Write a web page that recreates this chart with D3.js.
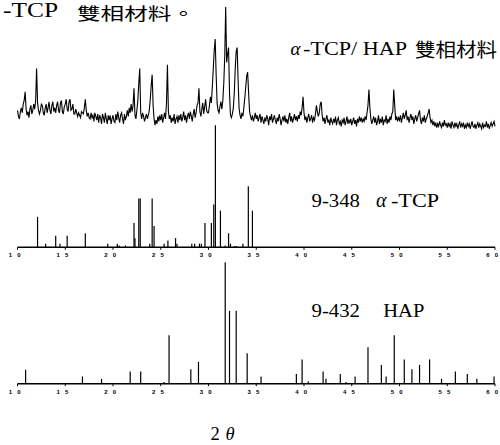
<!DOCTYPE html>
<html><head><meta charset="utf-8">
<script src="https://cdn.jsdelivr.net/npm/d3@7"></script>
<style>
html,body{margin:0;padding:0;background:#fff;}
svg{display:block;}
.serif{font-family:"Liberation Serif","DejaVu Serif",serif;}
.cjk{font-family:"Noto Sans CJK TC","Noto Sans CJK SC",sans-serif;}
.tick{font-family:"Liberation Sans",Arial,sans-serif;font-weight:bold;}
</style></head>
<body>
<script>
// ---------- DATA ----------
// Measured XRD pattern of the α-TCP/HAP biphasic material (2θ from 10° in 0.1° steps, relative intensity)
const xrdStart = 10, xrdStep = 0.1;
const xrdIntensity = [
16,11,9,15,18,14,21,24,31,17,      // 10
12,15,10,17,20,13,16,21,17,24,     // 11
50,22,16,13,16,21,20,14,12,18,     // 12
21,14,18,23,16,13,20,23,15,18,     // 13
14,20,23,16,14,22,24,15,13,19,     // 14
21,25,17,15,23,25,16,17,21,13,     // 15
13,17,14,11,14,12,10,15,14,13,     // 16
18,25,16,11,14,10,9,14,10,12,      // 17
7,14,11,8,13,6,12,10,5,13,         // 18
10,6,14,9,5,12,8,12,5,9,           // 19
12,7,6,13,8,15,10,6,12,14,         // 20
9,5,13,8,11,16,11,18,14,21,        // 21
15,20,34,12,9,16,24,38,50,14,      // 22
9,14,11,7,10,13,9,12,16,25,        // 23
36,45,20,9,4,8,5,11,7,12,          // 24
8,13,6,10,14,9,22,53,15,9,         // 25
12,6,10,7,13,5,9,11,6,12,          // 26
8,13,7,10,15,8,12,6,11,14,         // 27
9,15,11,7,13,17,10,14,20,22,       // 28
34,15,11,17,22,13,19,25,16,14,     // 29
14,20,27,22,35,50,65,74,45,22,     // 30
16,14,19,23,17,24,38,60,100,55,    // 31
62,67,30,12,10,13,18,30,50,64,     // 32
67,40,18,12,9,14,11,18,26,35,      // 33
44,47,30,15,11,8,12,7,10,14,       // 34
9,12,7,10,13,6,11,8,5,10,          // 35
7,12,9,4,11,8,13,6,9,12,           // 36
8,5,10,7,13,9,4,8,11,7,            // 37
12,6,9,5,10,14,7,11,6,9,           // 38
13,8,11,7,12,9,15,12,18,27,        // 39
14,8,11,6,10,13,7,9,12,6,          // 40
10,8,13,20,15,11,14,21,23,12,      // 41
7,10,5,9,12,6,8,4,10,7,            // 42
5,9,6,11,4,8,10,5,7,3,             // 43
8,6,10,4,7,11,5,8,6,9,             // 44
4,7,10,5,8,3,9,6,11,7,             // 45
10,6,9,7,11,8,14,20,33,18,         // 46
9,5,8,11,6,10,4,7,12,5,            // 47
9,6,11,4,8,7,12,5,9,6,             // 48
11,8,13,15,33,20,8,11,7,10,        // 49
8,12,6,10,14,9,12,16,8,11,         // 50
6,10,13,8,11,5,9,12,7,10,          // 51
13,16,8,5,10,7,12,6,9,11,          // 52
14,17,10,6,8,4,7,3,6,2,            // 53
5,3,7,4,2,6,3,8,4,5,               // 54
2,6,3,5,1,7,4,2,6,3,               // 55
5,1,4,7,2,5,3,6,1,4,               // 56
2,6,3,5,1,4,7,3,2,5,               // 57
1,4,6,2,5,3,1,6,2,4,               // 58
3,7,2,5,1,4,6,3,5,7,               // 59
3                                  // 60
];
// JCPDS 9-348 α-TCP reference lines
const tcpAngles =    [12.1,12.95,14.0,14.45,15.2,17.1,19.45,20.45,20.65,21.3,22.2,22.3,22.7,22.85,23.85,24.1,24.3,25.35,25.75,26.55,26.7,28.25,28.55,29.05,29.25,29.63,30.3,30.55,30.72,31.25,31.75,32.1,32.3,32.7,32.9,33.6,34.17,34.6];
const tcpIntensity = [25,3,9.5,3,9.5,11.5,3,3,1.5,1.5,20,7.5,40,40,3,40,17.5,3,5.5,7.5,3,3,3,3,3,20,20,35,100,30,1.5,11.5,3,1,1,3,50,30];
// JCPDS 9-432 HAP reference lines
const hapAngles =    [10.85,16.8,18.8,21.8,22.9,25.35,25.87,28.15,28.95,31.75,32.2,32.9,34.05,35.5,39.2,39.8,40.45,42.0,42.3,43.8,44.4,45.35,46.7,48.1,48.6,49.45,50.5,51.3,52.1,53.15,54.4,55.85,57.1,58.1,59.9];
const hapIntensity = [11.5,6,4,10,10,1.5,40,12,18,100,60,60,25,6,8,20,2,10,4,8,1.5,6,30,15.5,6,40,20,12,15.5,20,4,10,8,4,6];
const tickValues = [10,15,20,25,30,35,40,45,50,55,60];

// ---------- DRAW ----------
const W = 500, H = 445;
const svg = d3.select("body").append("svg").attr("width", W).attr("height", H)
  .attr("viewBox", `0 0 ${W} ${H}`);
svg.append("rect").attr("width", W).attr("height", H).attr("fill", "#fff");

const x = d3.scaleLinear().domain([10, 60]).range([17.5, 495]);
const yXrd = d3.scaleLinear().domain([0, 100]).range([130, 7]);
const yTcp = d3.scaleLinear().domain([0, 100]).range([247.3, 125.3]);
const yHap = d3.scaleLinear().domain([0, 100]).range([383.7, 262.3]);

// XRD trace
const xrd = xrdIntensity.map((v, i) => [xrdStart + i * xrdStep, v]);
svg.append("path").datum(xrd)
  .attr("fill", "none").attr("stroke", "#000").attr("stroke-width", 1.1)
  .attr("stroke-linejoin", "miter")
  .attr("d", d3.line().x(d => x(d[0])).y(d => yXrd(d[1])));

function stickPanel(angles, vals, y) {
  const g = svg.append("g");
  g.selectAll("line.bar").data(angles).join("line").attr("class", "bar")
    .attr("x1", d => x(d)).attr("x2", d => x(d))
    .attr("y1", y(0)).attr("y2", (d, i) => y(vals[i]))
    .attr("stroke", "#000").attr("stroke-width", 1.2);
  const base = y(0);
  g.append("line").attr("x1", x(10)).attr("x2", x(60)).attr("y1", base).attr("y2", base)
    .attr("stroke", "#000").attr("stroke-width", 1.5);
  g.selectAll("line.tk").data(tickValues).join("line").attr("class", "tk")
    .attr("x1", d => x(d)).attr("x2", d => x(d)).attr("y1", base).attr("y2", base + 2.5)
    .attr("stroke", "#000").attr("stroke-width", 1);
  g.selectAll("text.tl").data(tickValues).join("text").attr("class", "tl tick")
    .attr("x", d => x(d) - 8.7).attr("y", base + 10)
    .attr("font-size", 6).attr("letter-spacing", 1.75)
    .text(d => String(d).split("").join(" "));
}
stickPanel(tcpAngles, tcpIntensity, yTcp);
stickPanel(hapAngles, hapIntensity, yHap);

// Texts
function txt(str, xp, yp, size, cls, opts = {}) {
  const t = svg.append("text").attr("class", cls).attr("x", xp).attr("y", yp)
    .attr("font-size", size).attr("fill", "#000").text(str);
  if (opts.len) t.attr("textLength", opts.len).attr("lengthAdjust", opts.adj || "spacing");
  if (opts.italic) t.attr("font-style", "italic");
  return t;
}
// top-left fragment of the caption
txt("-TCP", 3, 17, 20, "serif", {len: 55, adj: "spacingAndGlyphs"});
txt("雙相材料。", 77, 19.8, 17, "cjk", {len: 118, adj: "spacingAndGlyphs"});
// main trace title
txt("α", 290.5, 55, 19, "serif", {italic: true});
txt("-TCP/ HAP", 303, 55, 18.5, "serif", {len: 104, adj: "spacingAndGlyphs"});
txt("雙相材料", 415, 57, 19, "cjk", {len: 82, adj: "spacingAndGlyphs"});
// α-TCP label
txt("9-348", 311.5, 206.7, 19.5, "serif", {len: 48.5, adj: "spacingAndGlyphs"});
txt("α", 376, 206.7, 20, "serif", {italic: true});
txt("-TCP", 391, 206.7, 19.5, "serif", {len: 48, adj: "spacingAndGlyphs"});
// HAP label
txt("9-432", 311.5, 316.7, 19.5, "serif", {len: 48.5, adj: "spacingAndGlyphs"});
txt("HAP", 383.3, 316.7, 19.5, "serif", {len: 41, adj: "spacingAndGlyphs"});
// x-axis title
txt("2", 210.5, 440, 18.5, "serif");
txt("θ", 225.5, 440, 18.5, "serif", {italic: true});
</script>
</body></html>
